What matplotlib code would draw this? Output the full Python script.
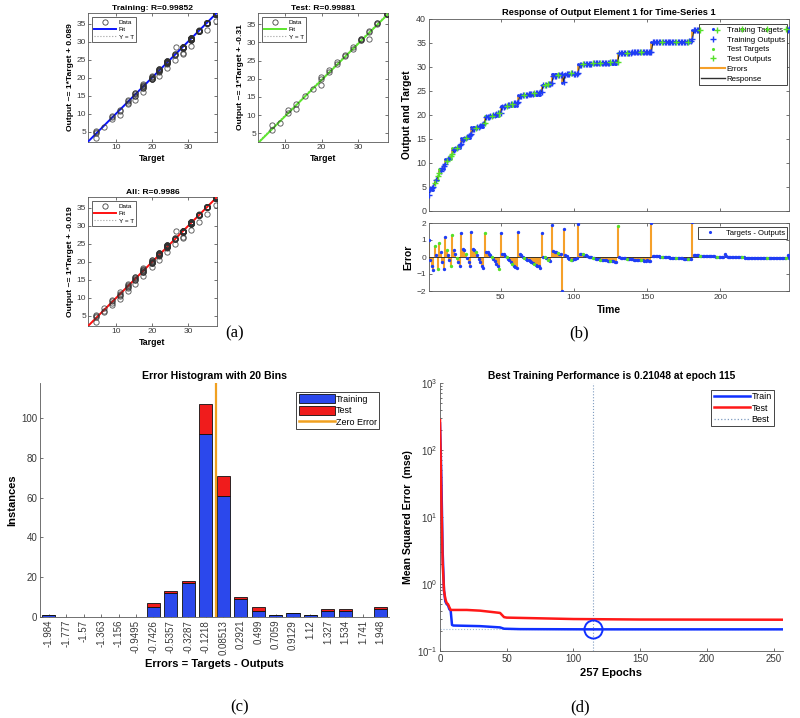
import numpy as np
import matplotlib
matplotlib.use("Agg")
import matplotlib.pyplot as plt
from matplotlib.lines import Line2D
from matplotlib.patches import Patch

plt.rcParams['font.family'] = ['Liberation Sans', 'DejaVu Sans']
plt.rcParams['axes.linewidth'] = 0.6
plt.rcParams['xtick.direction'] = 'in'
plt.rcParams['ytick.direction'] = 'in'
plt.rcParams['axes.edgecolor'] = '#5a5a5a'

# ---------------- data: time series (panel b, also feeds panel a) ----------------
plateau_levels = [4.3, 6.5, 8.7, 10.9, 13.1, 15.3, 17.5, 19.8, 21.9, 24.1, 26.3,
                  28.5, 26.6, 28.5, 30.7, 32.9, 35.2, 37.8]
plateau_errors = [
    [1.00, -0.20, -0.55, -0.78],
    [0.64, 0.10, -0.70],
    [0.84, 0.30, -0.30, -0.70],
    [1.18, 0.40, 0.10, -0.20, -0.55],
    [1.30, 0.40, 0.20, -0.05, -0.30, -0.55],
    [1.39, 0.45, 0.40, 0.15, -0.05, -0.30, -0.55],
    [1.45, 0.45, 0.42, 0.30, 0.10, -0.10, -0.30, -0.50, -0.65],
    [1.39, 0.30, 0.28, 0.20, 0.10, 0.00, -0.10, -0.25, -0.40, -0.55, -0.70],
    [1.39, 0.20, 0.15, 0.05, -0.02, -0.10, -0.20, -0.30, -0.40, -0.50, -0.58, -0.65],
    [1.45, 0.20, 0.10, 0.00, -0.05, -0.10, -0.15, -0.20, -0.25, -0.30, -0.35, -0.40,
     -0.45, -0.50, -0.55, -0.62],
    [1.43, 0.02, 0.00, -0.05, -0.15, -0.20, -0.25],
    [1.89, 0.35, 0.32, 0.30, 0.25, 0.20, 0.15],
    [-2.00],
    [1.62, 0.10, 0.05, -0.05, -0.10, -0.15, -0.15, -0.10, -0.10, -0.05],
    [1.97, 0.20, 0.18, 0.15, 0.12, 0.10, 0.05, 0.02, 0.00, -0.02, -0.05, -0.08, -0.10,
     -0.12, -0.14, -0.15, -0.16, -0.18, -0.20, -0.20, -0.22, -0.23, -0.24, -0.25, -0.26,
     -0.27, -0.28],
    [1.85, 0.00, -0.03, -0.05, -0.06, -0.08, -0.10, -0.12, -0.10, -0.12, -0.14, -0.15,
     -0.15, -0.16, -0.18, -0.18, -0.20, -0.20, -0.21, -0.22, -0.20, -0.22, -0.24],
    [2.00, 0.08, 0.06, 0.05, 0.04, 0.03, 0.02, 0.02, 0.01, 0.00, 0.00, -0.01, -0.02,
     -0.03, -0.03, -0.04, -0.05, -0.05, -0.06, -0.07, -0.08, -0.08, -0.09, -0.10, -0.10,
     -0.11, -0.12, -0.13],
    [2.05, 0.12, 0.10, 0.10, 0.09, 0.08, 0.08, 0.07, 0.06, 0.06, 0.05, 0.05, 0.04, 0.04,
     0.03, 0.03, 0.02, 0.02, 0.02, 0.01, 0.01, 0.00, 0.20, 0.04, 0.02, 0.01, 0.01, 0.00,
     0.00, 0.00, -0.01, -0.01, -0.01, -0.02, -0.02, -0.02, -0.03, -0.03, -0.03, -0.03,
     -0.04, -0.04, -0.04, -0.04, -0.05, -0.05, -0.05, -0.05, -0.05, -0.06, -0.06, -0.06,
     -0.06, -0.06, -0.06, -0.07, -0.07, -0.07, -0.07, -0.07, -0.07, -0.08, -0.08, -0.08,
     -0.08, 0.14, -0.08],
]
test_times = [5, 7, 8, 13, 16, 17, 20, 26, 33, 39, 44, 49, 54, 58, 66, 73, 80, 82, 89,
              98, 106, 113, 118, 125, 130, 136, 146, 160, 170, 178, 186, 198, 215, 232, 245]

# ---------------- data: regression panels (panel a) ----------------
reg_titles = ['Training: R=0.99852', 'Test: R=0.99881', 'All: R=0.9986']
reg_slopes = [1.0, 1.0, 1.0]
reg_intercepts = [0.089, -0.31, -0.019]
reg_ylabels = ['Output ~= 1*Target + 0.089', 'Output ~= 1*Target + -0.31',
               'Output ~= 1*Target + -0.019']
reg_limits = [(2.1, 38.0), (2.6, 38.1), (2.1, 38.0)]

# ---------------- data: error histogram (panel c) ----------------
bin_labels = ['-1.984', '-1.777', '-1.57', '-1.363', '-1.156', '-0.9495', '-0.7426',
              '-0.5357', '-0.3287', '-0.1218', '0.08513', '0.2921', '0.499', '0.7059',
              '0.9129', '1.12', '1.327', '1.534', '1.741', '1.948']
hist_train = [1, 0, 0, 0, 0, 0, 5, 12, 17, 92, 61, 9, 3, 1, 2, 1, 3, 3, 0, 4]
hist_test = [0, 0, 0, 0, 0, 0, 2, 1, 1, 15, 10, 1, 2, 0, 0, 0, 1, 1, 0, 1]

# ---------------- data: performance (panel d) ----------------
train_epochs = [0, 1, 2, 3, 4, 5, 6, 7, 8, 9, 10, 30, 45, 48, 60, 115, 257]
train_mse = [250, 40, 3.0, 0.8, 0.55, 0.50, 0.48, 0.42, 0.40, 0.245, 0.24, 0.235,
             0.225, 0.215, 0.212, 0.21048, 0.2104]
test_epochs = [0, 1, 2, 3, 4, 5, 6, 7, 8, 10, 20, 30, 40, 45, 48, 50, 100, 150, 257]
test_mse = [280, 20, 2.0, 0.8, 0.6, 0.52, 0.50, 0.45, 0.41, 0.41, 0.41, 0.40, 0.38,
            0.37, 0.32, 0.315, 0.30, 0.295, 0.293]
best_epoch = 115
best_perf = 0.21048
n_epochs = 257

# ---------------- colours ----------------
C_BLUE = '#1f3df5'
C_GREEN = '#55e02a'
C_ORANGE = '#f5a02a'
C_RED = '#f01c1c'
C_TICK = '#3a3a3a'

W, H = 800, 718
fig = plt.figure(figsize=(8, 7.18), dpi=100)


def rect(l, t, r, b):
    return [l / W, 1 - b / H, (r - l) / W, (b - t) / H]


def fig_anchor(x, y):
    return (x / W, 1 - y / H)


def style_legend(leg, lw=0.6):
    fr = leg.get_frame()
    fr.set_edgecolor('#262626')
    fr.set_linewidth(lw)
    fr.set_alpha(1)


# build series
target = np.concatenate([[lv] * len(e) for lv, e in zip(plateau_levels, plateau_errors)])
err = np.concatenate([np.array(e, dtype=float) for e in plateau_errors])
output = target - err
t = np.arange(1, len(err) + 1)
is_test = np.isin(t, test_times)
is_train = ~is_test

# ---------------- panel (a) ----------------
reg_rects = [rect(88, 13, 217, 142), rect(258, 13, 388, 142), rect(88, 197, 217, 326)]
reg_colors = ['#0a14ff', '#5de62e', '#ff1010']
reg_masks = [is_train, is_test, np.ones_like(is_test)]
for i in range(3):
    ax = fig.add_axes(reg_rects[i])
    m = reg_masks[i]
    lo, hi = reg_limits[i]
    xs = np.array([lo, hi])
    ax.plot(xs, xs, ':', color='#a0a0a0', lw=0.8, zorder=2)
    ax.plot(xs, reg_slopes[i] * xs + reg_intercepts[i], color=reg_colors[i], lw=1.4, zorder=3)
    ax.plot(target[m], output[m], 'o', ms=3.8, mfc='none', mec='#303030', mew=0.65,
            alpha=0.8, zorder=4)
    ax.set_xlim(lo, hi)
    ax.set_ylim(lo, hi)
    ax.set_xticks([10, 20, 30])
    ax.set_yticks([5, 10, 15, 20, 25, 30, 35])
    ax.tick_params(labelsize=6.0, colors=C_TICK, length=2, width=0.5, top=True, right=True, pad=1.5)
    ax.set_title(reg_titles[i], fontsize=6.1, fontweight='bold', pad=2)
    ax.set_xlabel('Target', fontsize=6.3, fontweight='bold', labelpad=2)
    ax.set_ylabel(reg_ylabels[i], fontsize=6.1, fontweight='bold', labelpad=2)
    handles = [Line2D([], [], ls='none', marker='o', ms=3.8, mfc='none', mec='#404040', mew=0.6),
               Line2D([], [], color=reg_colors[i], lw=1.4),
               Line2D([], [], color='#a0a0a0', ls=':', lw=0.8)]
    leg = ax.legend(handles, ['Data', 'Fit', 'Y = T'], loc='upper left', fontsize=4.6,
                    fancybox=False, borderpad=0.4, labelspacing=0.3, handlelength=3.4,
                    handletextpad=0.4, borderaxespad=0.6, markerfirst=True)
    style_legend(leg, 0.5)

fig.text(235 / W, 1 - 333 / H, '(a)', family='Liberation Serif', fontsize=12, ha='center', va='center')

# ---------------- panel (b) ----------------
axr = fig.add_axes(rect(429, 19, 789, 211))
axr.vlines(t, output, target, color=C_ORANGE, lw=1.3, zorder=2)
axr.plot(t, output, color='#202020', lw=0.8, zorder=3)
axr.plot(t[is_train], target[is_train], '.', color=C_BLUE, ms=2.0, zorder=4)
axr.plot(t[is_train], output[is_train], '+', color=C_BLUE, ms=4.2, mew=1.0, zorder=5)
axr.plot(t[is_test], target[is_test], '.', color=C_GREEN, ms=2.0, zorder=4)
axr.plot(t[is_test], output[is_test], '+', color=C_GREEN, ms=4.2, mew=1.0, zorder=6)
axr.set_xlim(1, len(t))
axr.set_ylim(0, 40)
axr.set_xticks([50, 100, 150, 200])
axr.set_xticklabels([])
axr.set_yticks(range(0, 41, 5))
axr.tick_params(labelsize=6.4, colors=C_TICK, length=2, width=0.5, top=True, right=True, pad=2)
axr.set_title('Response of Output Element 1 for Time-Series 1', fontsize=6.7, fontweight='bold', pad=3)
axr.set_ylabel('Output and Target', fontsize=7.4, fontweight='bold', labelpad=3)
h_b = [Line2D([], [], ls='none', marker='.', color=C_BLUE, ms=2.5),
       Line2D([], [], ls='none', marker='+', color=C_BLUE, ms=4, mew=1),
       Line2D([], [], ls='none', marker='.', color=C_GREEN, ms=2.5),
       Line2D([], [], ls='none', marker='+', color=C_GREEN, ms=4, mew=1),
       Line2D([], [], color=C_ORANGE, lw=1.5),
       Line2D([], [], color='#303030', lw=1.0)]
leg = axr.legend(h_b, ['Training Targets', 'Training Outputs', 'Test Targets', 'Test Outputs',
                       'Errors', 'Response'],
                 loc='upper right', bbox_to_anchor=fig_anchor(787, 24), bbox_transform=fig.transFigure,
                 fontsize=5.7, fancybox=False, borderpad=0.3, labelspacing=0.28, handlelength=3.0,
                 handletextpad=0.2, borderaxespad=0)
style_legend(leg)

axe = fig.add_axes(rect(429, 223, 789, 291))
axe.vlines(t, 0, err, color=C_ORANGE, lw=1.5, zorder=2)
axe.axhline(0, color='#202020', lw=0.6, zorder=3)
axe.plot(t[is_train], err[is_train], '.', color=C_BLUE, ms=2.8, zorder=4)
axe.plot(t[is_test], err[is_test], '.', color=C_GREEN, ms=2.8, zorder=4)
axe.set_xlim(1, len(t))
axe.set_ylim(-2, 2)
axe.set_xticks([50, 100, 150, 200])
axe.set_yticks([-2, -1, 0, 1, 2])
axe.tick_params(labelsize=6.0, colors=C_TICK, length=2, width=0.5, top=True, right=True, pad=2)
axe.set_ylabel('Error', fontsize=7.4, fontweight='bold', labelpad=2)
axe.set_xlabel('Time', fontsize=7.4, fontweight='bold', labelpad=3)
leg = axe.legend([Line2D([], [], ls='none', marker='.', color=C_BLUE, ms=2.5)], ['Targets - Outputs'],
                 loc='upper right', bbox_to_anchor=fig_anchor(787, 227), bbox_transform=fig.transFigure,
                 fontsize=5.5, fancybox=False, borderpad=0.3, handlelength=2.5, handletextpad=0.8,
                 borderaxespad=0)
style_legend(leg)

fig.text(579 / W, 1 - 333 / H, '(b)', family='Liberation Serif', fontsize=12, ha='center', va='center')

# ---------------- panel (c) ----------------
axh = fig.add_axes(rect(40, 383, 389, 617))
xb = np.arange(len(bin_labels))
axh.bar(xb, hist_train, width=0.75, color='#2b48ec', edgecolor='#101010', lw=0.6, zorder=2)
axh.bar(xb, hist_test, bottom=hist_train, width=0.75, color=C_RED, edgecolor='#101010', lw=0.6, zorder=2)
centers = np.array([float(s) for s in bin_labels])
zero_x = (0 - centers[0]) / (centers[1] - centers[0])
axh.axvline(zero_x, color='#f0a020', lw=1.6, zorder=3)
axh.set_xlim(-0.5, len(bin_labels) - 0.5)
axh.set_ylim(0, 117.7)
axh.set_yticks([0, 20, 40, 60, 80, 100])
axh.set_xticks(xb)
axh.set_xticklabels(bin_labels, rotation=90)
axh.spines['top'].set_visible(False)
axh.spines['right'].set_visible(False)
axh.tick_params(labelsize=7, colors=C_TICK, length=2, width=0.5, pad=2)
axh.set_title('Error Histogram with 20 Bins', fontsize=7.6, fontweight='bold', pad=3)
axh.set_ylabel('Instances', fontsize=8, fontweight='bold', labelpad=3)
axh.set_xlabel('Errors = Targets - Outputs', fontsize=8, fontweight='bold', labelpad=3)
h_c = [Patch(facecolor='#2b48ec', edgecolor='#101010', lw=0.6),
       Patch(facecolor=C_RED, edgecolor='#101010', lw=0.6),
       Line2D([], [], color='#f0a020', lw=1.8)]
leg = axh.legend(h_c, ['Training', 'Test', 'Zero Error'], loc='upper right',
                 bbox_to_anchor=fig_anchor(379, 392), bbox_transform=fig.transFigure,
                 fontsize=6.5, fancybox=False, borderpad=0.25, labelspacing=0.25, handlelength=4.0,
                 handleheight=1.1, handletextpad=0.1, borderaxespad=0)
style_legend(leg)

fig.text(240 / W, 1 - 707 / H, '(c)', family='Liberation Serif', fontsize=12, ha='center', va='center')

# ---------------- panel (d) ----------------
axp = fig.add_axes(rect(440, 383, 783, 651))
axp.plot(train_epochs, train_mse, color='#1030ff', lw=1.8, zorder=3)
axp.plot(test_epochs, test_mse, color='#ff1818', lw=1.8, zorder=4)
axp.axvline(best_epoch, color='#7f9cc0', ls=':', lw=0.8, zorder=2)
axp.axhline(best_perf, color='#9fb8d8', ls=':', lw=0.8, zorder=2)
axp.plot([best_epoch], [best_perf], 'o', ms=13, mfc='none', mec='#1030ff', mew=1.4, zorder=5)
axp.set_yscale('log')
axp.set_ylim(0.1, 1000)
axp.set_xlim(0, n_epochs)
axp.set_xticks([0, 50, 100, 150, 200, 250])
axp.spines['top'].set_visible(False)
axp.spines['right'].set_visible(False)
axp.tick_params(labelsize=7, colors=C_TICK, length=2.5, width=0.5, pad=2)
axp.tick_params(which='minor', length=1.5, width=0.4)
axp.set_title('Best Training Performance is 0.21048 at epoch 115', fontsize=7.4, fontweight='bold', pad=3)
axp.set_ylabel('Mean Squared Error  (mse)', fontsize=7.6, fontweight='bold', labelpad=3)
axp.set_xlabel('257 Epochs', fontsize=8, fontweight='bold', labelpad=3)
h_d = [Line2D([], [], color='#1030ff', lw=1.8),
       Line2D([], [], color='#ff1818', lw=1.8),
       Line2D([], [], color='#7f9cc0', ls=':', lw=0.9)]
leg = axp.legend(h_d, ['Train', 'Test', 'Best'], loc='upper right',
                 bbox_to_anchor=fig_anchor(774, 390), bbox_transform=fig.transFigure,
                 fontsize=6.5, fancybox=False, borderpad=0.25, labelspacing=0.25, handlelength=4.0,
                 handletextpad=0.2, borderaxespad=0)
style_legend(leg)

fig.text(580 / W, 1 - 707 / H, '(d)', family='Liberation Serif', fontsize=12, ha='center', va='center')

fig.savefig('out.png', dpi=100)
